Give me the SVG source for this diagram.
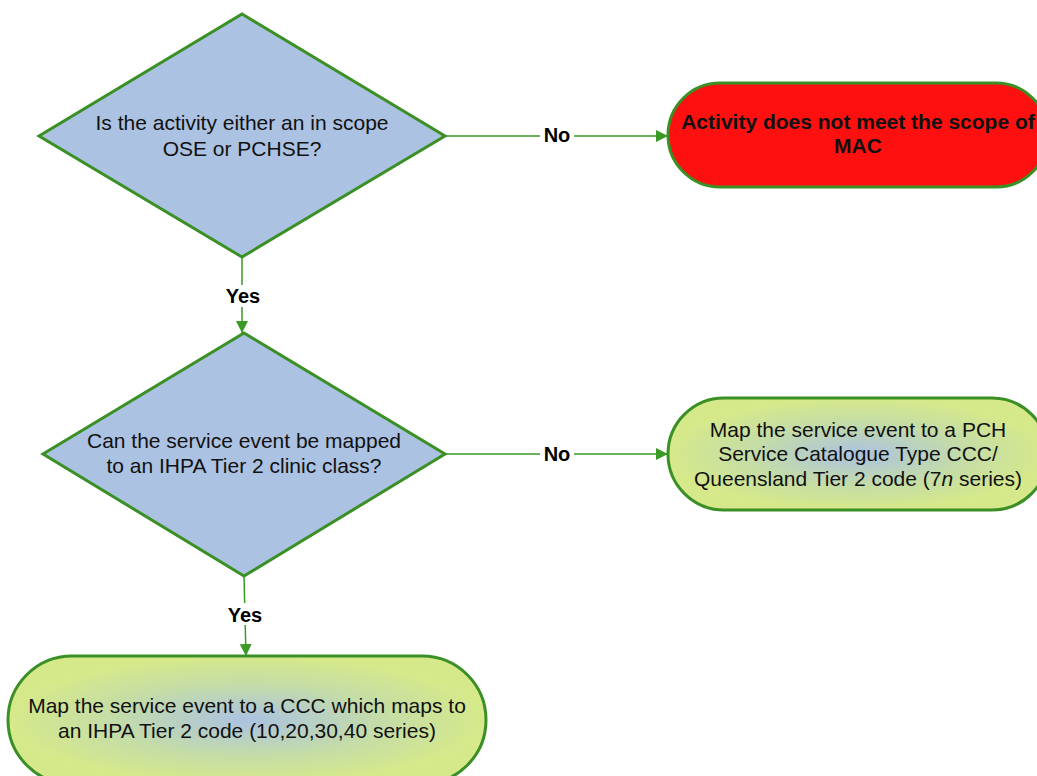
<svg xmlns="http://www.w3.org/2000/svg" width="1037" height="776" viewBox="0 0 1037 776">
<defs>
<radialGradient id="gy" cx="50%" cy="50%" r="50%">
<stop offset="0" stop-color="#abc2e2"/>
<stop offset="0.55" stop-color="#c4dca8"/>
<stop offset="1" stop-color="#d6e98a"/>
</radialGradient>
<marker id="ah" viewBox="0 0 12 12" refX="12" refY="6" markerWidth="12" markerHeight="12" markerUnits="userSpaceOnUse" orient="auto">
<path d="M0,0 L12,6 L0,12 Z" fill="#3a9a23"/>
</marker>
</defs>
<style>
.dia{fill:#abc2e2;stroke:#3a8f25;stroke-width:3;stroke-linejoin:miter}
.term{fill:url(#gy);stroke:#3a8f25;stroke-width:3}
.red{fill:#fe1010;stroke:#3a8f25;stroke-width:3}
.t{font-family:"Liberation Sans",Arial,sans-serif;font-size:21px;fill:#111;text-anchor:middle}
.b{font-weight:bold}
.lbl{font-family:"Liberation Sans",Arial,sans-serif;font-size:20px;font-weight:bold;fill:#000;text-anchor:middle}
.c{stroke:#3a9a23;stroke-width:1.5;fill:none;marker-end:url(#ah)}
</style>
<rect width="1037" height="776" fill="#fff"/>
<g id="connectors">
<line class="c" x1="445" y1="136" x2="668" y2="136"/>
<rect x="540" y="125" width="34" height="22" fill="#fff"/>
<text class="lbl" x="557" y="142">No</text>
<line class="c" x1="242" y1="258" x2="242" y2="333"/>
<rect x="222" y="285" width="40" height="22" fill="#fff"/>
<text class="lbl" x="243" y="303">Yes</text>
<line class="c" x1="445" y1="454" x2="668" y2="454"/>
<rect x="540" y="444" width="34" height="22" fill="#fff"/>
<text class="lbl" x="557" y="461">No</text>
<line class="c" x1="244" y1="577" x2="246" y2="656"/>
<rect x="225" y="603" width="40" height="22" fill="#fff"/>
<text class="lbl" x="245" y="622">Yes</text>
</g>
<g id="d1">
<polygon class="dia" points="242,14 445,136 242,257 39,136"/>
<text class="t" x="242" y="130">Is the activity either an in scope</text>
<text class="t" x="242" y="156">OSE or PCHSE?</text>
</g>
<g id="t_red">
<rect class="red" x="668" y="83" width="380" height="104" rx="52" ry="52"/>
<text class="t b" x="858" y="129">Activity does not meet the scope of</text>
<text class="t b" x="858" y="153">MAC</text>
</g>
<g id="d2">
<polygon class="dia" points="244,333 445,454 244,576 43,454"/>
<text class="t" x="244" y="448">Can the service event be mapped</text>
<text class="t" x="244" y="473">to an IHPA Tier 2 clinic class?</text>
</g>
<g id="t_pch">
<rect class="term" x="668" y="398" width="380" height="112" rx="56" ry="56"/>
<text class="t" x="858" y="437">Map the service event to a PCH</text>
<text class="t" x="858" y="461">Service Catalogue Type CCC/</text>
<text class="t" x="858" y="486">Queensland Tier 2 code (7<tspan font-style="italic">n</tspan> series)</text>
</g>
<g id="t_ihpa">
<rect class="term" x="8" y="656" width="478" height="128" rx="64" ry="64"/>
<text class="t" x="247" y="713">Map the service event to a CCC which maps to</text>
<text class="t" x="247" y="738">an IHPA Tier 2 code (10,20,30,40 series)</text>
</g>
</svg>
